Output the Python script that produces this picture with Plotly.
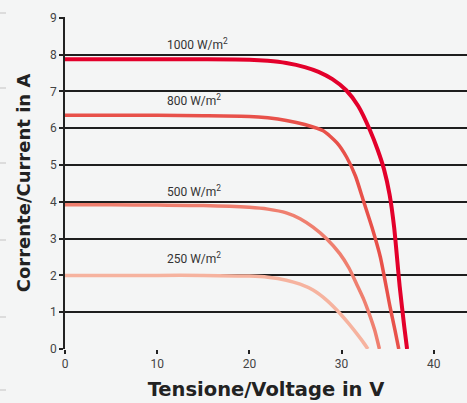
import plotly.graph_objects as go

# Data
v_1000 = [0, 5, 10, 15, 20, 22, 24, 26, 27.5, 29, 30.5, 31.8, 33.1, 33.9, 34.6, 35.2, 35.7, 36.3, 36.8, 37.1]
i_1000 = [7.87, 7.87, 7.87, 7.87, 7.86, 7.83, 7.77, 7.66, 7.53, 7.33, 7.03, 6.6, 5.93, 5.42, 4.88, 4.2, 3.3, 1.7, 0.6, 0.0]

v_800 = [0, 5, 10, 15, 20, 22, 24, 26, 28.0, 29.5, 30.55, 31.5, 32.35, 33.3, 34.2, 35.25, 35.8, 36.2]
i_800 = [6.35, 6.35, 6.35, 6.34, 6.32, 6.28, 6.21, 6.10, 5.93, 5.6, 5.21, 4.7, 4.04, 3.3, 2.5, 1.15, 0.5, 0.0]

v_500 = [0, 5, 10, 15, 20, 22, 24, 25.5, 26.9, 28.4, 29.8, 30.8, 31.6, 32.4, 33.1, 33.6, 34.1]
i_500 = [3.92, 3.92, 3.91, 3.90, 3.85, 3.80, 3.70, 3.54, 3.31, 2.99, 2.59, 2.2, 1.78, 1.35, 0.88, 0.5, 0.0]

v_250 = [0, 5, 10, 15, 20, 22, 24, 25.5, 26.9, 28.4, 29.8, 30.8, 31.6, 32.3, 32.85]
i_250 = [2.0, 2.0, 2.0, 2.0, 1.98, 1.95, 1.87, 1.76, 1.60, 1.32, 0.97, 0.68, 0.43, 0.2, 0.0]

labels = ["1000 W/m<sup>2</sup>", "800 W/m<sup>2</sup>", "500 W/m<sup>2</sup>", "250 W/m<sup>2</sup>"]
label_y = [8.02, 6.5, 4.02, 2.2]
colors = ["#e3002b", "#e8514a", "#ef7f6f", "#f6b39f"]
widths = [4, 3.5, 3.5, 3.5]

x_ticks = [0, 10, 20, 30, 40]
y_ticks = list(range(0, 10))

fig = go.Figure()
series = [(v_1000, i_1000), (v_800, i_800), (v_500, i_500), (v_250, i_250)]
for (vx, iy), c, w in zip(series, colors, widths):
    fig.add_trace(go.Scatter(x=vx, y=iy, mode="lines",
                             line=dict(color=c, width=w, shape="spline", smoothing=0.6),
                             showlegend=False, hoverinfo="skip"))

for lab, ly in zip(labels, label_y):
    fig.add_annotation(x=10.8, y=ly, text=lab, showarrow=False, xanchor="left",
                       yanchor="bottom", font=dict(family="Roboto", size=12, color="#333333"))

# faint decorative marks on the left edge
for py in [13, 88, 163, 240, 317, 390]:
    yp = (403 - 54 - py) / 332
    fig.add_shape(type="line", xref="paper", yref="paper",
                  x0=-65 / 402, x1=-59 / 402, y0=yp, y1=yp,
                  line=dict(color="#dcdcdc", width=2))

fig.update_layout(
    width=467, height=403,
    margin=dict(l=65, r=0, t=17, b=54),
    paper_bgcolor="#f4f5f5", plot_bgcolor="#f4f5f5",
    font=dict(family="Roboto", color="#444444", size=12),
)
fig.update_xaxes(range=[0, 43.6], tickvals=x_ticks, showgrid=False, zeroline=False,
                 showline=False, ticks="outside", ticklen=4, tickcolor="#222222", tickwidth=1.5,
                 tickfont=dict(size=12, color="#444444"), automargin=False,
                 title=dict(text="<b>Tensione/Voltage in V</b>",
                            font=dict(family="DejaVu Sans", size=19.5, color="#222222"),
                            standoff=11))
fig.update_yaxes(range=[0, 9.02], tickvals=y_ticks, showgrid=True, gridcolor="#1e1e1e", gridwidth=2,
                 zeroline=False, showline=True, linecolor="#222222", linewidth=1.5,
                 ticks="outside", ticklen=4, tickcolor="#222222", tickwidth=1.5,
                 tickfont=dict(size=12, color="#444444"), automargin=False,
                 title=dict(text="<b>Corrente/Current in A</b>",
                            font=dict(family="DejaVu Sans", size=18, color="#222222"),
                            standoff=15))

fig.write_html("out.html", config={"displayModeBar": False},
               post_script="document.body.style.margin='0';document.body.style.background='#f4f5f5';")
